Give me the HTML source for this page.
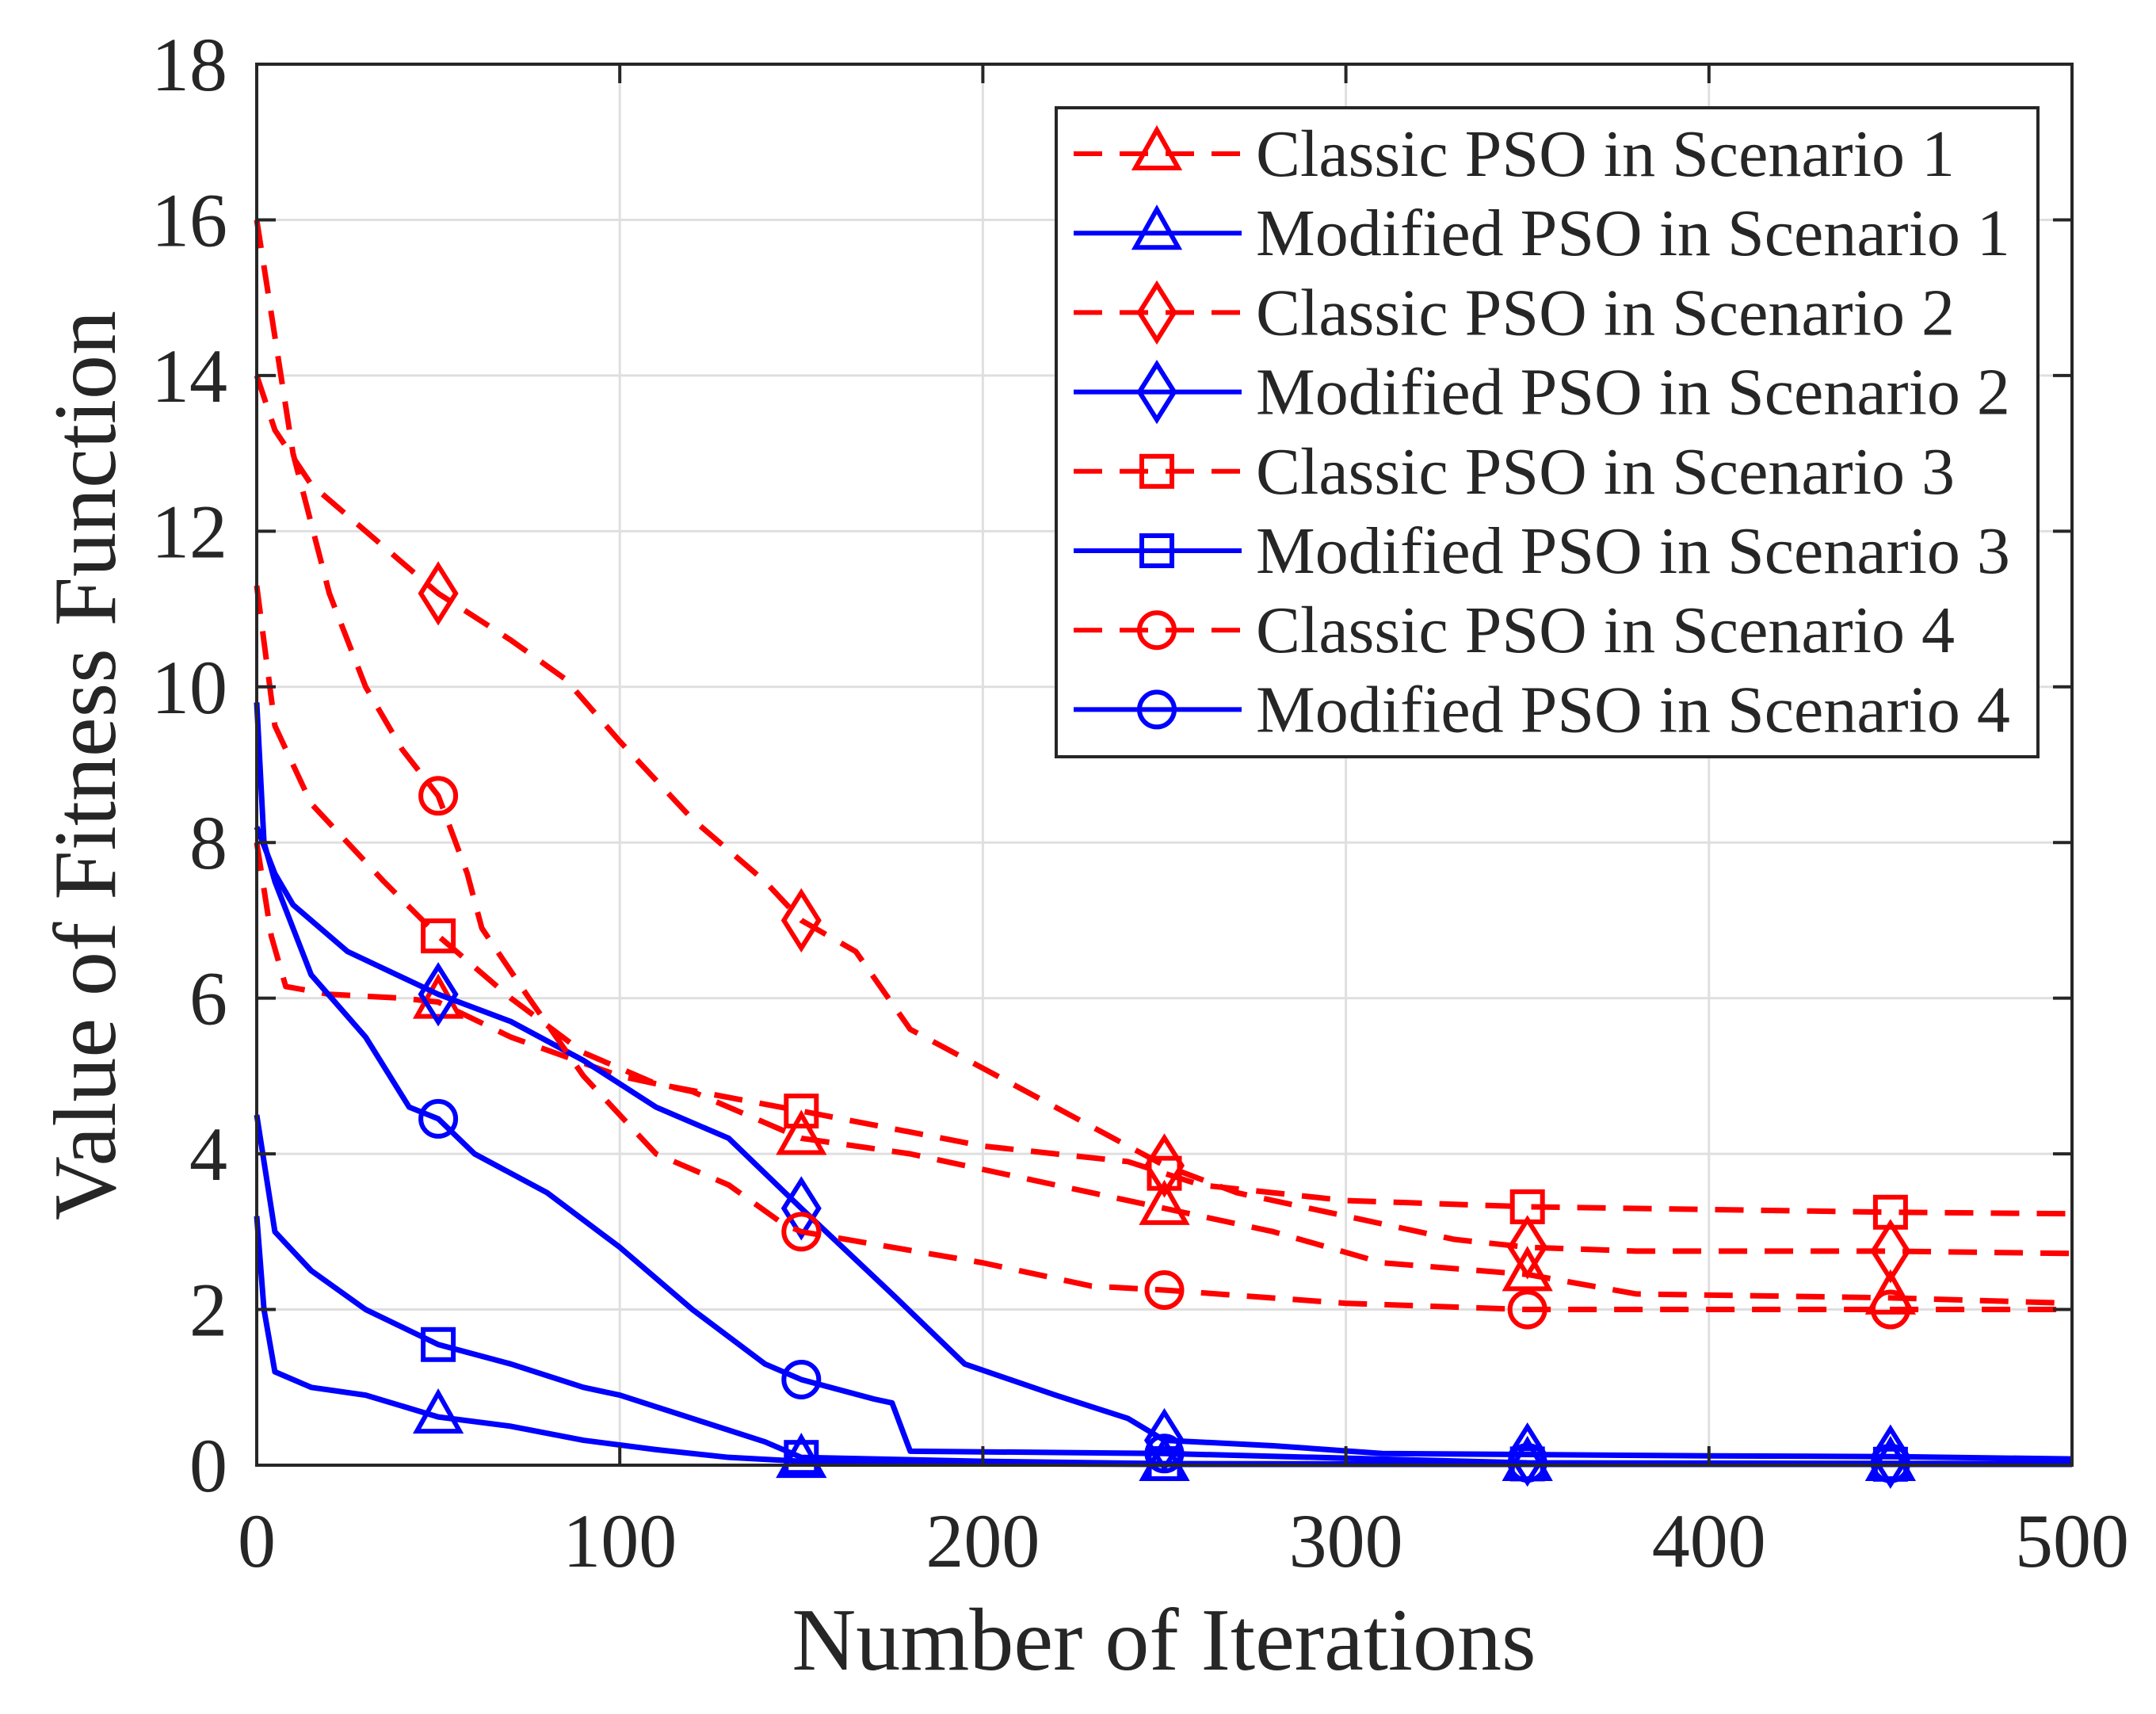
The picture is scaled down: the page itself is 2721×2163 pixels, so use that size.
<!DOCTYPE html>
<html><head><meta charset="utf-8"><style>
html,body{margin:0;padding:0;background:#fff}
svg{display:block}
text{font-family:"Liberation Serif",serif;fill:#262626}
</style></head><body>
<svg id="chart" width="2721" height="2163" viewBox="0 0 2721 2163" xmlns="http://www.w3.org/2000/svg">
<rect x="0" y="0" width="2721" height="2163" fill="#fff"/>
<g id="grid"></g>
<g id="series"></g>
<rect x="324" y="81" width="2291" height="1768" fill="none" stroke="#262626" stroke-width="4"/>
<g id="ticks"></g>
<text x="1469" y="2107" font-size="112" text-anchor="middle">Number of Iterations</text>
<text transform="translate(145,966) rotate(-90)" font-size="112" text-anchor="middle">Value of Fitness Function</text>
<g id="legend"></g>
</svg>
<script>
const xTicks=[0,100,200,300,400,500];
const yTicks=[0,2,4,6,8,10,12,14,16,18];
const markerX=[50,150,250,350,450];
const labels=["Classic PSO in Scenario 1","Modified PSO in Scenario 1","Classic PSO in Scenario 2","Modified PSO in Scenario 2","Classic PSO in Scenario 3","Modified PSO in Scenario 3","Classic PSO in Scenario 4","Modified PSO in Scenario 4"];
const c1x=[0,4,8,20,40,50,70,100,120,150,180,200,230,250,280,310,350,380,450,500];
const c1y=[8.0,6.8,6.15,6.05,6.0,5.95,5.5,5.0,4.8,4.2,4.0,3.8,3.5,3.3,3.0,2.6,2.45,2.2,2.15,2.08];
const m1x=[0,2,5,15,30,50,70,90,110,130,150,180,250,500];
const m1y=[3.2,2.0,1.2,1.0,0.9,0.62,0.5,0.32,0.2,0.1,0.05,0.02,0.01,0.01];
const c2x=[0,5,15,30,50,70,85,100,120,140,150,165,180,200,220,240,250,270,300,330,350,380,450,500];
const c2y=[14.0,13.3,12.6,12.0,11.2,10.6,10.1,9.3,8.3,7.5,7.0,6.6,5.6,5.1,4.6,4.1,3.85,3.5,3.2,2.9,2.8,2.75,2.75,2.72];
const m2x=[0,5,10,25,50,70,90,110,130,150,175,195,220,240,250,280,310,400,450,500];
const m2y=[8.2,7.6,7.2,6.6,6.05,5.7,5.2,4.6,4.2,3.3,2.2,1.3,0.9,0.6,0.32,0.25,0.15,0.12,0.11,0.08];
const c3x=[0,5,15,35,50,70,90,110,150,200,240,260,300,350,450,500];
const c3y=[11.3,9.5,8.5,7.5,6.8,6.0,5.3,4.9,4.55,4.1,3.9,3.6,3.4,3.32,3.25,3.23];
const m3x=[0,5,15,30,50,70,90,100,120,140,150,200,250,500];
const m3y=[4.5,3.0,2.5,2.0,1.55,1.3,1.0,0.9,0.6,0.3,0.1,0.05,0.02,0.01];
const c4x=[0,5,10,20,30,40,50,58,62,75,90,110,130,145,150,200,230,250,300,350,450,500];
const c4y=[16.0,14.5,13.0,11.2,10.0,9.2,8.6,7.6,6.9,6.0,5.0,4.0,3.6,3.1,3.0,2.6,2.3,2.25,2.08,2.0,2.0,2.0];
const m4x=[0,2,5,15,30,42,50,60,80,100,120,140,150,170,175,180,250,350,500];
const m4y=[9.8,8.0,7.5,6.3,5.5,4.6,4.45,4.0,3.5,2.8,2.0,1.3,1.1,0.85,0.8,0.18,0.15,0.03,0.02];
const seriesX=[c1x,m1x,c2x,m2x,c3x,m3x,c4x,m4x];
const seriesY=[c1y,m1y,c2y,m2y,c3y,m3y,c4y,m4y];
const L=324,R=2615,T=81,B=1849;
const sx=v=>L+(v-0)/(500-0)*(R-L);
const sy=v=>B-(v-0)/(18-0)*(B-T);
const NS="http://www.w3.org/2000/svg";
function mk(tag,attrs,parent){const e=document.createElementNS(NS,tag);for(const k in attrs)e.setAttribute(k,attrs[k]);parent.appendChild(e);return e;}
const grid=document.getElementById('grid'),ticks=document.getElementById('ticks'),ser=document.getElementById('series'),leg=document.getElementById('legend');
xTicks.forEach(t=>{const x=sx(t);
 const g=mk('line',{x1:x,x2:x,y1:T,y2:B,stroke:'#dfdfdf','stroke-width':3},grid);
 
 
 const a=mk('line',{x1:x,x2:x,y1:B,y2:B-24,stroke:'#262626','stroke-width':4},ticks);
 
 
 const b=mk('line',{x1:x,x2:x,y1:T,y2:T+24,stroke:'#262626','stroke-width':4},ticks);
 
 
 const tx=mk('text',{x:x,y:1977,'font-size':96,'text-anchor':'middle'},ticks);tx.textContent=String(t);
 
 
});
yTicks.forEach(t=>{const y=sy(t);
 const g=mk('line',{x1:L,x2:R,y1:y,y2:y,stroke:'#dfdfdf','stroke-width':3},grid);
 
 
 const a=mk('line',{x1:L,x2:L+24,y1:y,y2:y,stroke:'#262626','stroke-width':4},ticks);
 
 
 const b=mk('line',{x1:R,x2:R-24,y1:y,y2:y,stroke:'#262626','stroke-width':4},ticks);
 
 
 const tx=mk('text',{x:287,y:y+33,'font-size':96,'text-anchor':'end'},ticks);tx.textContent=String(t);
 
 
});
const shapes=['tri','tri','dia','dia','sq','sq','circ','circ'];
function marker(shape,x,y,col,parent){
 let e;
 if(shape==='tri') e=mk('polygon',{points:`${x},${y-30} ${x-27},${y+18} ${x+27},${y+18}`},parent);
 else if(shape==='dia') e=mk('polygon',{points:`${x},${y-35} ${x+22},${y} ${x},${y+35} ${x-22},${y}`},parent);
 else if(shape==='sq') e=mk('rect',{x:x-19,y:y-19,width:38,height:38},parent);
 else e=mk('circle',{cx:x,cy:y,r:22},parent);
 e.setAttribute('fill','none');e.setAttribute('stroke',col);e.setAttribute('stroke-width',6);
 return e;
}
function interp(xs,ys,v){for(let i=0;i<xs.length-1;i++){if(v>=xs[i]&&v<=xs[i+1]){const f=(v-xs[i])/(xs[i+1]-xs[i]);return ys[i]+f*(ys[i+1]-ys[i]);}}return ys[ys.length-1];}
seriesX.forEach((xs,i)=>{
 const ys=seriesY[i];const classic=i%2===0;const col=classic?'#ff0000':'#0000ff';
 const pts=xs.map((v,j)=>sx(v)+','+sy(ys[j])).join(' ');
 const g=mk('g',{},ser);
 
 
 const pl=mk('polyline',{points:pts,fill:'none',stroke:col,'stroke-width':7,'stroke-linejoin':'round'},g);
 if(classic)pl.setAttribute('stroke-dasharray','36 22');
 
 
 markerX.forEach(mx=>{const m=marker(shapes[i],sx(mx),sy(interp(xs,ys,mx)),col,g);
  
  });
});
const lb=mk('rect',{x:1333,y:136,width:1239,height:819,fill:'#fff',stroke:'#262626','stroke-width':4},leg);


labels.forEach((lab,i)=>{
 const y=194+i*100.2;const classic=i%2===0;const col=classic?'#ff0000':'#0000ff';
 const g=mk('g',{},leg);
 
 
 const l=mk('line',{x1:1355,x2:1567,y1:y,y2:y,stroke:col,'stroke-width':6},g);
 if(classic)l.setAttribute('stroke-dasharray','36 22');
 
 
 const m=marker(shapes[i],1460,y,col,g);
 
 
 const t=mk('text',{x:1585,y:y+28,'font-size':84},g);t.textContent=lab;
 
 
});
</script>
</body></html>
